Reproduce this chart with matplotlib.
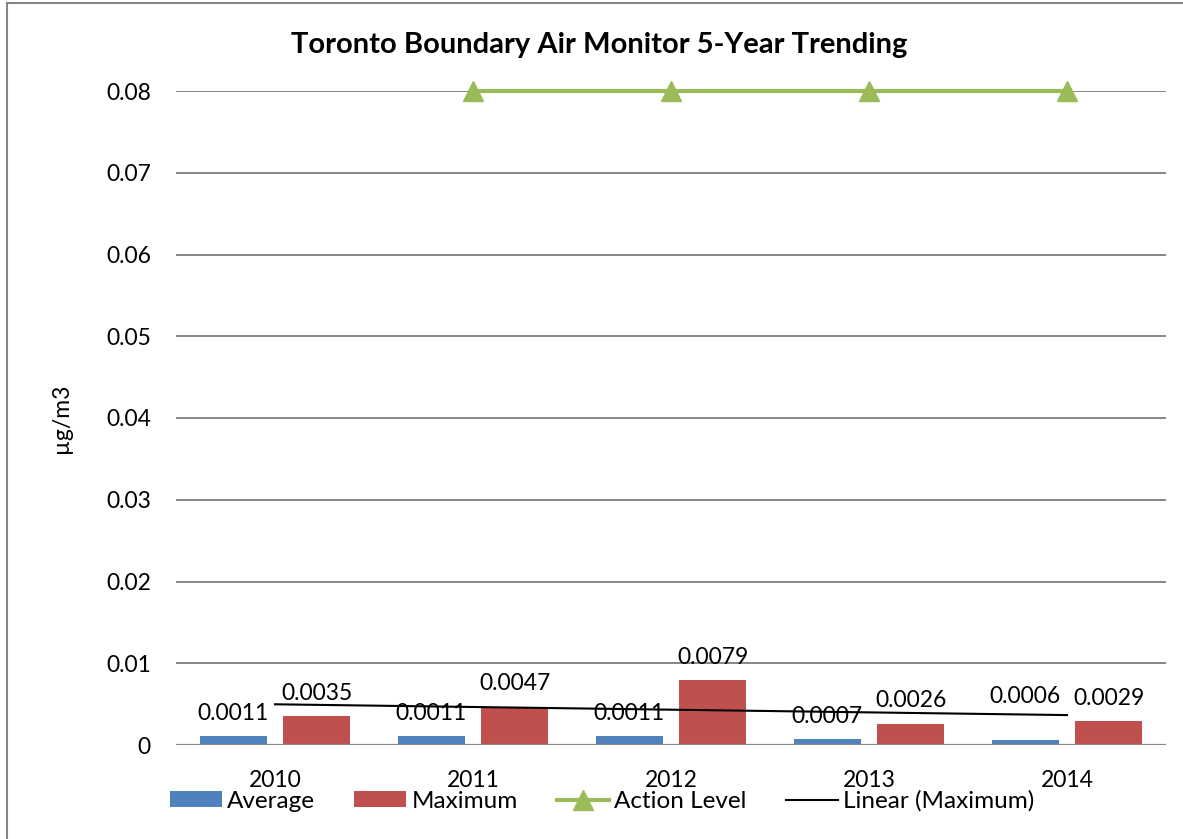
import numpy as np
import matplotlib.pyplot as plt
from matplotlib.lines import Line2D
from matplotlib.patches import Patch, Rectangle

# Yearly readings (ug/m3)
years = ['2010', '2011', '2012', '2013', '2014']
average = [0.0011, 0.0011, 0.0011, 0.0007, 0.0006]
maximum = [0.0035, 0.0047, 0.0079, 0.0026, 0.0029]
action_level = [np.nan, 0.08, 0.08, 0.08, 0.08]
y_ticks = [0, 0.01, 0.02, 0.03, 0.04, 0.05, 0.06, 0.07, 0.08]
y_tick_labels = ['0', '0.01', '0.02', '0.03', '0.04', '0.05', '0.06', '0.07', '0.08']

# Excel-ish palette
blue = '#4f81bd'
red = '#c0504d'
green = '#9bbb59'
grid_gray = '#868686'

plt.rcParams['font.family'] = ['Lato', 'DejaVu Sans']
font_size = 16.5

W, H = 1183, 839
fig = plt.figure(figsize=(W / 100, H / 100), dpi=100)
ax = fig.add_axes([176 / W, 1 - 745 / H, (1166 - 176) / W, (745 - 91) / H])

x = np.arange(len(years))
bar_w = 0.335
offset = 0.21

ax.bar(x - offset, average, width=bar_w, color=blue, zorder=3)
ax.bar(x + offset, maximum, width=bar_w, color=red, zorder=3)

# Action level line with triangle markers
ax.plot(x, action_level, color=green, lw=3, marker='^', markersize=15,
        markeredgecolor=green, zorder=4, clip_on=False)

# Linear trend of the maximum values
slope, intercept = np.polyfit(x, maximum, 1)
ax.plot([x[0], x[-1]], [intercept + slope * x[0], intercept + slope * x[-1]],
        color='black', lw=1.5, zorder=5)

# Data labels above each bar (last average label nudged up to clear the trend line)
avg_lift = [9, 9, 9, 9, 24]
for xi, v, dy in zip(x, average, avg_lift):
    ax.annotate(f'{v:.4f}', (xi - offset, v), xytext=(0, dy), textcoords='offset points',
                ha='center', va='bottom', fontsize=font_size, zorder=6)
for xi, v in zip(x, maximum):
    ax.annotate(f'{v:.4f}', (xi + offset, v), xytext=(0, 9), textcoords='offset points',
                ha='center', va='bottom', fontsize=font_size, zorder=6)

ax.set_xlim(-0.5, len(years) - 0.5)
ax.set_ylim(0, 0.08)
ax.set_yticks(y_ticks)
ax.set_yticklabels(y_tick_labels)
ax.set_xticks(x)
ax.set_xticklabels(years)
ax.tick_params(axis='both', length=0, labelsize=font_size)
ax.tick_params(axis='y', pad=18)
ax.tick_params(axis='x', pad=18)

ax.yaxis.grid(True, color=grid_gray, lw=1.4, zorder=0)
for s in ax.spines.values():
    s.set_visible(False)
ax.axhline(0, color=grid_gray, lw=1.6, zorder=4)

fig.text(599 / W, 1 - 45 / H, 'Toronto Boundary Air Monitor 5-Year Trending',
         ha='center', va='center', fontsize=21, fontweight='bold')
fig.text(62 / W, 1 - 418 / H, 'µg/m3', rotation=90, ha='center', va='center',
         fontsize=font_size)

handles = [
    Patch(facecolor=blue, label='Average'),
    Patch(facecolor=red, label='Maximum'),
    Line2D([], [], color=green, lw=3, marker='^', markersize=15, label='Action Level'),
    Line2D([], [], color='black', lw=1.5, label='Linear (Maximum)'),
]
fig.legend(handles=handles, loc='center', bbox_to_anchor=(602 / W, 1 - 801 / H), ncol=4,
           frameon=False, fontsize=17.5, handlelength=2.15, handleheight=0.6,
           handletextpad=0.22, columnspacing=1.6, borderpad=0)

# Chart area border (left and top edges show)
fig.add_artist(Rectangle((7 / W, -0.1), 1.2, 1.1 - 3 / H, transform=fig.transFigure,
                         fill=False, edgecolor=grid_gray, lw=1.5))

fig.savefig('out.png', dpi=100)
